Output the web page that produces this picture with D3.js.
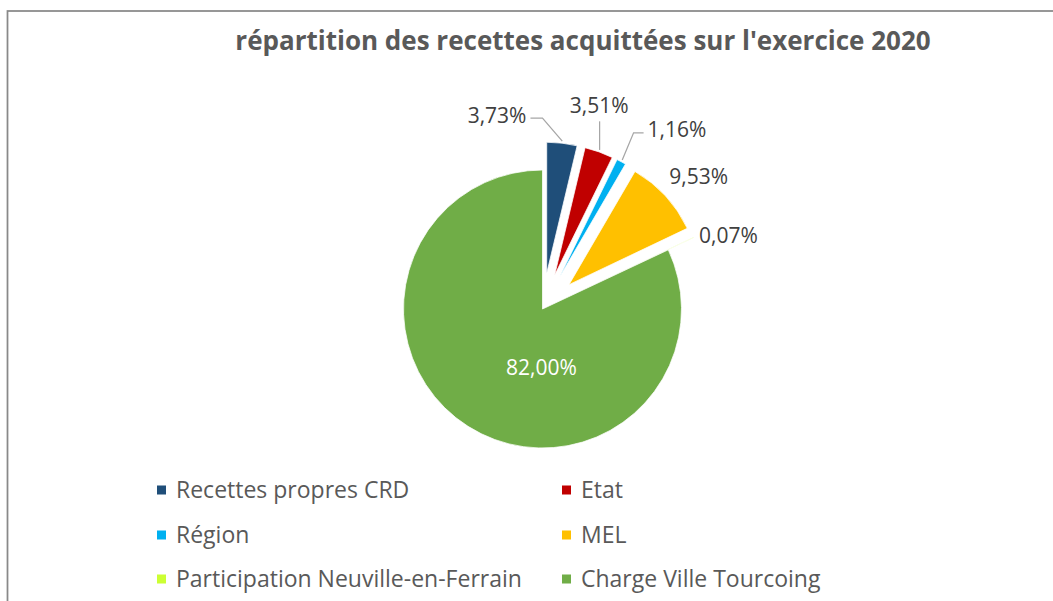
<!DOCTYPE html>
<html>
<head>
<meta charset="utf-8">
<script src="https://cdn.jsdelivr.net/npm/d3@7"></script>
<style>
  body { margin: 0; background: #fff; }
  text { font-family: "Open Sans", sans-serif; }
</style>
</head>
<body>
<script>
//chart data
var categories = ["Recettes propres CRD", "Etat", "Région", "MEL",
                  "Participation Neuville-en-Ferrain", "Charge Ville Tourcoing"];
var shares = [3.73, 3.51, 1.16, 9.53, 0.07, 82.00];
var sliceColors = ["#1f4e79", "#c00000", "#00b0f0", "#ffc000", "#ccff33", "#70ad47"];
var titleText = "répartition des recettes acquittées sur l'exercice 2020";

//french number format: comma as decimal separator
var fr = d3.formatLocale({decimal: ",", thousands: " ", grouping: [3], currency: ["", " €"]});
var pct = function(v){ return fr.format(".2f")(v) + "%"; };

//layout
var width = 1053,
    height = 601,
    cx = 542.5,
    cy = 309;

var rMain = 139,      //slice that stays in place
    rExploded = 131,  //pulled-out slices
    explodeDist = 36;

//label placement around pie centre (angle in degrees, clockwise from top, distance in px)
//this mimics Excel's "best fit" placement
var labelPlacement = [
    {a: -13.2, d: 199},
    {a: 15.6, d: 211},
    {a: 36.9, d: 224},
    {a: 49.6, d: 205},
    {a: 68.4, d: 200},
    {a: 181, d: 58}
];

var svg = d3.select("body")
    .append("svg")
    .attr("width", width)
    .attr("height", height);

//chart frame (cut by the picture on the right and bottom)
svg.append("rect")
    .attr("x", 7.5)
    .attr("y", 11)
    .attr("width", 1200)
    .attr("height", 800)
    .attr("fill", "none")
    .attr("stroke", "#898989")
    .attr("stroke-width", 1.75);

svg.append("text")
    .attr("x", 583)
    .attr("y", 50)
    .attr("text-anchor", "middle")
    .attr("font-size", "26px")
    .attr("font-weight", "bold")
    .attr("fill", "#595959")
    .text(titleText);

function dir(a){ return [Math.sin(a), -Math.cos(a)]; }

var pie = d3.pie().sort(null).value(function(d){ return d; });
var arcs = pie(shares);
var last = arcs.length - 1;

var g = svg.append("g").attr("transform", "translate(" + cx + "," + cy + ")");

g.selectAll(".slice")
    .data(arcs)
    .enter()
    .append("path")
    .attr("class", "slice")
    .attr("d", function(d, i){
        var r = i === last ? rMain : rExploded;
        return d3.arc().innerRadius(0).outerRadius(r)(d);
    })
    .attr("transform", function(d, i){
        var off = i === last ? 0 : explodeDist;
        var v = dir((d.startAngle + d.endAngle) / 2);
        return "translate(" + (v[0] * off) + "," + (v[1] * off) + ")";
    })
    .attr("fill", function(d, i){ return sliceColors[i]; })
    .attr("stroke", "#fff")
    .attr("stroke-width", 0.75);

//data labels
var labelG = g.append("g");
var labels = labelG.selectAll(".lbl")
    .data(arcs)
    .enter()
    .append("text")
    .attr("class", "lbl")
    .attr("x", function(d, i){ return dir(labelPlacement[i].a * Math.PI / 180)[0] * labelPlacement[i].d; })
    .attr("y", function(d, i){ return dir(labelPlacement[i].a * Math.PI / 180)[1] * labelPlacement[i].d; })
    .attr("dy", "0.36em")
    .attr("text-anchor", "middle")
    .attr("font-size", "21px")
    .attr("fill", function(d, i){ return i === last ? "#ffffff" : "#404040"; })
    .text(function(d){ return pct(d.data); });

//leader lines where the label sits away from its slice
labels.each(function(d, i){
    if (i === last) return;
    var b = this.getBBox();
    var v = dir((d.startAngle + d.endAngle) / 2);
    var ex = v[0] * (rExploded + explodeDist + 2),
        ey = v[1] * (rExploded + explodeDist + 2);
    var pts;
    var midY = b.y + b.height * 0.62;
    if (ex > b.x + b.width + 12) {
        pts = [[b.x + b.width + 4, midY], [b.x + b.width + 16, midY], [ex, ey]];
    } else if (ex < b.x - 12) {
        pts = [[b.x - 4, midY], [b.x - 14, midY], [ex, ey]];
    } else if (ey > b.y + b.height + 12) {
        pts = [[ex, b.y + b.height + 2], [ex, ey]];
    } else {
        return;
    }
    labelG.append("path")
        .attr("d", d3.line()(pts))
        .attr("fill", "none")
        .attr("stroke", "#a6a6a6")
        .attr("stroke-width", 1.25);
});

//legend, two columns
var legendCols = [157, 562],
    legendRows = [490, 535, 579];

var legend = svg.selectAll(".legend")
    .data(categories)
    .enter()
    .append("g")
    .attr("class", "legend")
    .attr("transform", function(d, i){
        return "translate(" + legendCols[i % 2] + "," + legendRows[Math.floor(i / 2)] + ")";
    });

legend.append("rect")
    .attr("x", 0)
    .attr("y", -4.5)
    .attr("width", 9)
    .attr("height", 9)
    .attr("fill", function(d, i){ return sliceColors[i]; });

legend.append("text")
    .attr("x", 19)
    .attr("dy", "0.36em")
    .attr("font-size", "23px")
    .attr("fill", "#595959")
    .text(function(d){ return d; });
</script>
</body>
</html>
